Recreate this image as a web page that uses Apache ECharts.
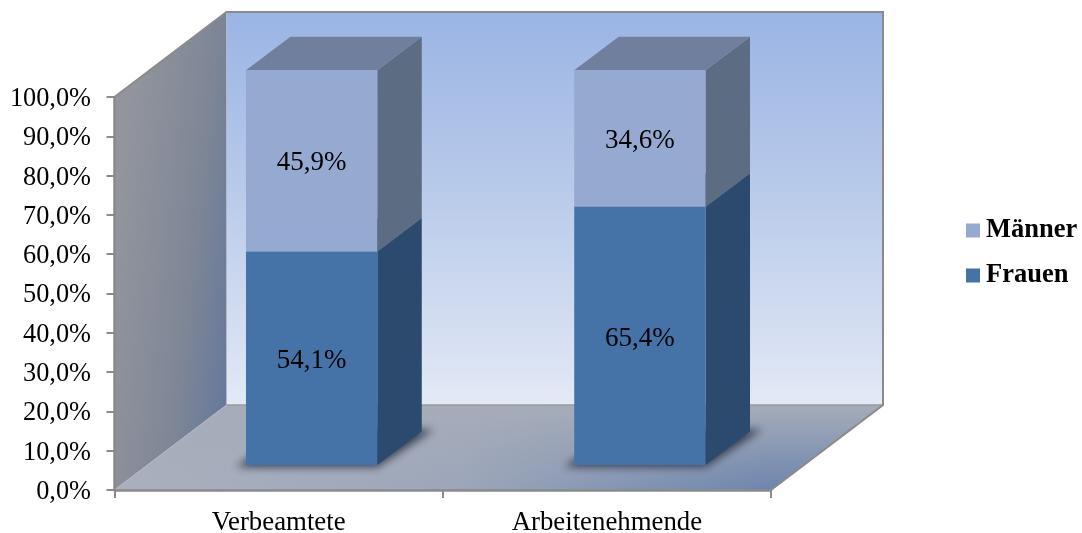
<!DOCTYPE html>
<html>
<head>
<meta charset="utf-8">
<style>html,body{margin:0;padding:0;background:#fff}#chart{width:1082px;height:533px}</style>
<script src="https://cdn.jsdelivr.net/npm/echarts@6/dist/echarts.min.js"></script>
</head>
<body>
<div id="chart"></div>
<script>
// Beschäftigte nach Geschlecht: gestapelte Anteile in Prozent
const categories = ['Verbeamtete', 'Arbeitenehmende'];
const frauen = [54.1, 65.4];
const maenner = [45.9, 34.6];

const SERIF = '"Liberation Serif", "Times New Roman", serif';
const EDGE = '#8a8a8a';

// Raumtiefe der Wände und Lage der Säulen im Raum
const ROOM_DX = 112, ROOM_DY = 85;
const BAR_SHIFT_X = 33, BAR_SHIFT_Y = 25, BAR_DX = 44.5, BAR_DY = 33.5;
const BAR_SCALE = 1.0043;
const OFFSCREEN = 3000;

const fmt = v => v.toFixed(1).replace('.', ',') + '%';
const poly = (points, style, z2) => ({ type: 'polygon', shape: { points }, style, z2: z2 || 0 });
const line = (points, stroke, lineWidth) => ({
  type: 'polyline', shape: { points }, style: { stroke, lineWidth, fill: null }, z2: 5
});

function renderRoom(params) {
  const c = params.coordSys;
  const l = c.x, r = c.x + c.width, t = c.y, b = c.y + c.height;
  const dx = ROOM_DX, dy = ROOM_DY;
  const floorPts = [[l, b], [l + dx, b - dy], [r + dx, b - dy], [r, b]];
  const backWall = poly(
    [[l + dx, t - dy], [r + dx, t - dy], [r + dx, b - dy], [l + dx, b - dy]],
    { fill: new echarts.graphic.LinearGradient(0, 0, 0, 1, [
      { offset: 0, color: '#9ab4e4' },
      { offset: 0.5, color: '#bccdeb' },
      { offset: 1, color: '#e3e9f6' }
    ]) });
  const sideWall = poly(
    [[l, t], [l + dx, t - dy], [l + dx, b - dy], [l, b]],
    { fill: new echarts.graphic.LinearGradient(0, 0.45, 1.2, 0.48, [
      { offset: 0, color: '#92959d' },
      { offset: 0.6, color: '#7e8696' },
      { offset: 1, color: '#64779c' }
    ]) });
  // Boden: waagerechter Verlauf, nach hinten von einem Grauverlauf überdeckt
  const floor = poly(floorPts, {
    fill: new echarts.graphic.LinearGradient(0, 0, 1, 0, [
      { offset: 0, color: '#abb0bd' },
      { offset: 0.45, color: '#9ca6ba' },
      { offset: 0.85, color: '#6d85ad' },
      { offset: 1, color: '#6d85ad' }
    ]) });
  const floorFade = poly(floorPts, {
    fill: new echarts.graphic.LinearGradient(0, 0, 0, 1, [
      { offset: 0, color: 'rgba(166,172,185,1)' },
      { offset: 1, color: 'rgba(166,172,185,0)' }
    ]) });
  return {
    type: 'group',
    children: [
      backWall, sideWall, floor, floorFade,
      line([[l + dx, t - dy], [l + dx, b - dy]], '#b4b8c0', 1),
      line([[l + dx, b - dy], [l, b]], '#b4b8c0', 1),
      line([[l + dx, b - dy], [r + dx, b - dy]], '#9a9a9a', 1.5),
      line([[l, t], [l + dx, t - dy], [r + dx, t - dy], [r + dx, b - dy], [r, b]], EDGE, 2)
    ]
  };
}

// Quader einer Teilsäule: Boden- und Deckwert stammen aus den Datenreihen
function segmentRenderer(colors, withShadow) {
  return function (params, api) {
    const base = api.coord([api.value(0), api.value(1)]);
    const top = api.coord([api.value(0), api.value(2)]);
    const zero = api.coord([api.value(0), 0]);
    const w = api.size([1, 0])[0] * 0.4;
    const project = y => zero[1] + (y - zero[1]) * BAR_SCALE - BAR_SHIFT_Y;
    const x0 = base[0] + BAR_SHIFT_X - w / 2, x1 = x0 + w;
    const yb = project(base[1]), yt = project(top[1]);
    const dx = BAR_DX, dy = BAR_DY;
    const children = [];
    if (withShadow) {
      // Nur der weiche Schatten ist sichtbar, die Form selbst liegt außerhalb der Fläche
      const s = OFFSCREEN;
      children.push(poly(
        [[x0 - 10 - s, yb + 2], [x1 - s, yb + 2], [x1 + dx + 12 - s, yb - dy - 2], [x0 + dx - s, yb - dy - 2]],
        { fill: '#2d3446', shadowBlur: 9, shadowOffsetX: s, shadowColor: 'rgba(45,52,70,0.9)' }, 1));
    }
    children.push(
      poly([[x1, yb], [x1 + dx, yb - dy], [x1 + dx, yt - dy], [x1, yt]], { fill: colors.side }, 2),
      poly([[x0, yt], [x1, yt], [x1 + dx, yt - dy], [x0 + dx, yt - dy]], { fill: colors.top }, 2),
      poly([[x0, yb], [x1, yb], [x1, yt], [x0, yt]], { fill: colors.front }, 3),
      {
        type: 'text', z2: 6,
        style: {
          text: fmt(api.value(2) - api.value(1)),
          x: (x0 + x1) / 2, y: (yb + yt) / 2 + 2.5,
          align: 'center', verticalAlign: 'middle',
          font: '27px ' + SERIF, fill: '#000'
        }
      }
    );
    return { type: 'group', children };
  };
}

const frauenRows = categories.map((_, i) => [i, 0, frauen[i]]);
const maennerRows = categories.map((_, i) => [i, frauen[i], frauen[i] + maenner[i]]);

const FRAUEN = { front: '#4572a7', side: '#2c4a6e', top: '#35587f' };
const MAENNER = { front: '#95a9d1', side: '#5c6c83', top: '#6f7f9d' };

const chart = echarts.init(document.getElementById('chart'), null, { renderer: 'canvas' });
chart.setOption({
  animation: false,
  backgroundColor: '#fff',
  grid: { left: 114.5, right: 311, top: 97, bottom: 43, outerBoundsMode: 'none' },
  legend: {
    orient: 'vertical', left: 966, top: 217, padding: 0,
    icon: 'rect', itemWidth: 14, itemHeight: 14, itemGap: 18,
    selectedMode: false,
    data: ['Männer', 'Frauen'],
    textStyle: { fontFamily: SERIF, fontSize: 26.5, fontWeight: 'bold', color: '#000', padding: [2, 0, 0, 1] }
  },
  xAxis: {
    type: 'category', data: categories,
    axisLine: { show: true, lineStyle: { color: EDGE, width: 2.5 } },
    axisTick: { show: true, inside: false, length: 8, lineStyle: { color: EDGE, width: 2 } },
    axisLabel: { fontFamily: SERIF, fontSize: 26.8, color: '#000', margin: 19 }
  },
  yAxis: {
    type: 'value', min: 0, max: 100, interval: 10,
    axisLine: { show: true, lineStyle: { color: EDGE, width: 2.5 } },
    axisTick: { show: true, inside: false, length: 8, lineStyle: { color: EDGE, width: 2 } },
    splitLine: { show: false },
    axisLabel: {
      fontFamily: SERIF, fontSize: 26.3, color: '#000', margin: 23.5,
      verticalAlign: 'top', lineHeight: 4,
      formatter: v => v + ',0%'
    }
  },
  series: [
    { type: 'custom', name: 'Raum', z: -1, silent: true, renderItem: renderRoom, data: [[0, 0, 0]], encode: { x: 0, y: 1 } },
    {
      type: 'custom', name: 'Frauen', z: 2, renderItem: segmentRenderer(FRAUEN, true),
      itemStyle: { color: FRAUEN.front }, data: frauenRows, encode: { x: 0, y: [1, 2] }
    },
    {
      type: 'custom', name: 'Männer', z: 3, renderItem: segmentRenderer(MAENNER, false),
      itemStyle: { color: MAENNER.front }, data: maennerRows, encode: { x: 0, y: [1, 2] }
    }
  ]
});
</script>
</body>
</html>
